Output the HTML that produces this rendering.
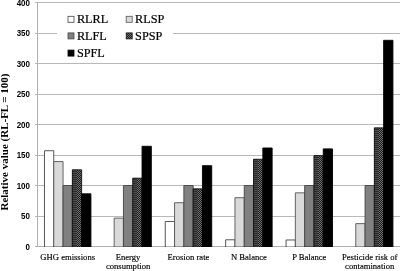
<!DOCTYPE html>
<html><head><meta charset="utf-8"><style>
html,body{margin:0;padding:0;background:#fff;}
body{width:400px;height:271px;overflow:hidden;position:relative;}
svg{position:absolute;left:0;top:0;will-change:transform;filter:blur(0.25px);}
.yl{font-family:"Liberation Sans",sans-serif;font-weight:bold;font-size:8.5px;fill:#000;}
.xl{font-family:"Liberation Serif",serif;font-size:8.6px;fill:#000;stroke:#000;stroke-width:0.15px;}
.lg{font-family:"Liberation Serif",serif;font-size:12.25px;fill:#000;stroke:#000;stroke-width:0.2px;}
.at{font-family:"Liberation Serif",serif;font-weight:bold;font-size:11px;fill:#000;}
</style></head><body>
<svg width="400" height="271" viewBox="0 0 400 271">
<defs>
<pattern id="chk" x="0" y="0" width="2" height="2" patternUnits="userSpaceOnUse">
<rect x="0" y="0" width="2" height="2" fill="#1c1c1c"/>
<rect x="0" y="0" width="1" height="1" fill="#707070"/>
<rect x="1" y="1" width="1" height="1" fill="#707070"/>
</pattern>
<pattern id="stp" x="0" y="0" width="2" height="2" patternUnits="userSpaceOnUse">
<rect x="0" y="0" width="2" height="2" fill="#2a2a2a"/>
<rect x="0" y="0" width="2" height="1" fill="#4c4c4c"/>
</pattern>
</defs>

<line x1="35" y1="2.5" x2="400" y2="2.5" stroke="#b8b8b8" stroke-width="1"/>
<line x1="35" y1="33.5" x2="400" y2="33.5" stroke="#b8b8b8" stroke-width="1"/>
<line x1="35" y1="63.5" x2="400" y2="63.5" stroke="#b8b8b8" stroke-width="1"/>
<line x1="35" y1="94.5" x2="400" y2="94.5" stroke="#b8b8b8" stroke-width="1"/>
<line x1="35" y1="124.5" x2="400" y2="124.5" stroke="#b8b8b8" stroke-width="1"/>
<line x1="35" y1="155.5" x2="400" y2="155.5" stroke="#b8b8b8" stroke-width="1"/>
<line x1="35" y1="185.5" x2="400" y2="185.5" stroke="#b8b8b8" stroke-width="1"/>
<line x1="35" y1="216.5" x2="400" y2="216.5" stroke="#b8b8b8" stroke-width="1"/>
<rect x="44.47" y="150.73" width="9.29" height="96.27" fill="#ffffff"/>
<path d="M44.47 247V150.73H53.76V247" fill="none" stroke="#444" stroke-width="0.9"/>
<rect x="53.76" y="161.59" width="9.29" height="85.41" fill="#d9d9d9"/>
<path d="M53.76 247V161.59H63.05V247" fill="none" stroke="#555" stroke-width="0.9"/>
<rect x="63.05" y="185.50" width="9.29" height="61.50" fill="#808080"/>
<path d="M63.05 247V185.50H72.35V247" fill="none" stroke="#444" stroke-width="0.9"/>
<rect x="72.35" y="169.82" width="9.29" height="77.18" fill="url(#chk)"/>
<rect x="72.35" y="169.82" width="4.18" height="77.18" fill="url(#stp)"/>
<path d="M72.35 247V169.82H81.64V247" fill="none" stroke="#111" stroke-width="0.9"/>
<rect x="81.64" y="193.80" width="9.29" height="53.20" fill="#000000"/>
<path d="M81.64 247V193.80H90.93V247" fill="none" stroke="#000" stroke-width="0.9"/>
<rect x="114.16" y="218.13" width="9.29" height="28.87" fill="#d9d9d9"/>
<path d="M114.16 247V218.13H123.45V247" fill="none" stroke="#555" stroke-width="0.9"/>
<rect x="123.45" y="185.50" width="9.29" height="61.50" fill="#808080"/>
<path d="M123.45 247V185.50H132.75V247" fill="none" stroke="#444" stroke-width="0.9"/>
<rect x="132.75" y="178.18" width="9.29" height="68.82" fill="url(#chk)"/>
<rect x="132.75" y="178.18" width="4.18" height="68.82" fill="url(#stp)"/>
<path d="M132.75 247V178.18H142.04V247" fill="none" stroke="#111" stroke-width="0.9"/>
<rect x="142.04" y="146.28" width="9.29" height="100.72" fill="#000000"/>
<path d="M142.04 247V146.28H151.33V247" fill="none" stroke="#000" stroke-width="0.9"/>
<rect x="165.27" y="221.49" width="9.29" height="25.51" fill="#ffffff"/>
<path d="M165.27 247V221.49H174.56V247" fill="none" stroke="#444" stroke-width="0.9"/>
<rect x="174.56" y="202.70" width="9.29" height="44.30" fill="#d9d9d9"/>
<path d="M174.56 247V202.70H183.85V247" fill="none" stroke="#555" stroke-width="0.9"/>
<rect x="183.85" y="185.50" width="9.29" height="61.50" fill="#808080"/>
<path d="M183.85 247V185.50H193.15V247" fill="none" stroke="#444" stroke-width="0.9"/>
<rect x="193.15" y="188.86" width="9.29" height="58.14" fill="url(#chk)"/>
<rect x="193.15" y="188.86" width="4.18" height="58.14" fill="url(#stp)"/>
<path d="M193.15 247V188.86H202.44V247" fill="none" stroke="#111" stroke-width="0.9"/>
<rect x="202.44" y="165.68" width="9.29" height="81.32" fill="#000000"/>
<path d="M202.44 247V165.68H211.73V247" fill="none" stroke="#000" stroke-width="0.9"/>
<rect x="225.67" y="239.79" width="9.29" height="7.21" fill="#ffffff"/>
<path d="M225.67 247V239.79H234.96V247" fill="none" stroke="#444" stroke-width="0.9"/>
<rect x="234.96" y="197.70" width="9.29" height="49.30" fill="#d9d9d9"/>
<path d="M234.96 247V197.70H244.25V247" fill="none" stroke="#555" stroke-width="0.9"/>
<rect x="244.25" y="185.50" width="9.29" height="61.50" fill="#808080"/>
<path d="M244.25 247V185.50H253.55V247" fill="none" stroke="#444" stroke-width="0.9"/>
<rect x="253.55" y="159.27" width="9.29" height="87.73" fill="url(#chk)"/>
<rect x="253.55" y="159.27" width="4.18" height="87.73" fill="url(#stp)"/>
<path d="M253.55 247V159.27H262.84V247" fill="none" stroke="#111" stroke-width="0.9"/>
<rect x="262.84" y="147.99" width="9.29" height="99.01" fill="#000000"/>
<path d="M262.84 247V147.99H272.13V247" fill="none" stroke="#000" stroke-width="0.9"/>
<rect x="286.07" y="239.97" width="9.29" height="7.03" fill="#ffffff"/>
<path d="M286.07 247V239.97H295.36V247" fill="none" stroke="#444" stroke-width="0.9"/>
<rect x="295.36" y="192.82" width="9.29" height="54.18" fill="#d9d9d9"/>
<path d="M295.36 247V192.82H304.65V247" fill="none" stroke="#555" stroke-width="0.9"/>
<rect x="304.65" y="185.50" width="9.29" height="61.50" fill="#808080"/>
<path d="M304.65 247V185.50H313.95V247" fill="none" stroke="#444" stroke-width="0.9"/>
<rect x="313.95" y="155.61" width="9.29" height="91.39" fill="url(#chk)"/>
<rect x="313.95" y="155.61" width="4.18" height="91.39" fill="url(#stp)"/>
<path d="M313.95 247V155.61H323.24V247" fill="none" stroke="#111" stroke-width="0.9"/>
<rect x="323.24" y="148.90" width="9.29" height="98.10" fill="#000000"/>
<path d="M323.24 247V148.90H332.53V247" fill="none" stroke="#000" stroke-width="0.9"/>
<rect x="355.76" y="223.62" width="9.29" height="23.38" fill="#d9d9d9"/>
<path d="M355.76 247V223.62H365.05V247" fill="none" stroke="#555" stroke-width="0.9"/>
<rect x="365.05" y="185.50" width="9.29" height="61.50" fill="#808080"/>
<path d="M365.05 247V185.50H374.35V247" fill="none" stroke="#444" stroke-width="0.9"/>
<rect x="374.35" y="127.86" width="9.29" height="119.14" fill="url(#chk)"/>
<rect x="374.35" y="127.86" width="4.18" height="119.14" fill="url(#stp)"/>
<path d="M374.35 247V127.86H383.64V247" fill="none" stroke="#111" stroke-width="0.9"/>
<rect x="383.64" y="40.32" width="9.29" height="206.68" fill="#000000"/>
<path d="M383.64 247V40.32H392.93V247" fill="none" stroke="#000" stroke-width="0.9"/>
<line x1="35" y1="246.5" x2="400" y2="246.5" stroke="#b0b0b0" stroke-width="1" style="mix-blend-mode:multiply"/>
<line x1="37.5" y1="2" x2="37.5" y2="247.0" stroke="#b0b0b0" stroke-width="1"/>
<text class="yl" transform="translate(30,5.50) scale(0.94,1)" text-anchor="end">400</text>
<text class="yl" transform="translate(30,36.00) scale(0.94,1)" text-anchor="end">350</text>
<text class="yl" transform="translate(30,66.50) scale(0.94,1)" text-anchor="end">300</text>
<text class="yl" transform="translate(30,97.00) scale(0.94,1)" text-anchor="end">250</text>
<text class="yl" transform="translate(30,127.50) scale(0.94,1)" text-anchor="end">200</text>
<text class="yl" transform="translate(30,158.00) scale(0.94,1)" text-anchor="end">150</text>
<text class="yl" transform="translate(30,188.50) scale(0.94,1)" text-anchor="end">100</text>
<text class="yl" transform="translate(30,219.00) scale(0.94,1)" text-anchor="end">50</text>
<text class="yl" transform="translate(30,249.50) scale(0.94,1)" text-anchor="end">0</text>
<rect x="57" y="8" width="116" height="54" fill="#fff"/>
<rect x="68.0" y="16.3" width="6" height="6" fill="#ffffff" stroke="#444" stroke-width="0.8"/>
<text class="lg" x="76.9" y="23.2">RLRL</text>
<rect x="126.2" y="16.3" width="6" height="6" fill="#d9d9d9" stroke="#555" stroke-width="0.8"/>
<text class="lg" x="135.1" y="23.2">RLSP</text>
<rect x="68.0" y="32.9" width="6" height="6" fill="#808080" stroke="#444" stroke-width="0.8"/>
<text class="lg" x="76.9" y="39.7">RLFL</text>
<rect x="126.2" y="32.9" width="6" height="6" fill="url(#chk)" stroke="#111" stroke-width="0.8"/>
<text class="lg" x="135.1" y="39.7">SPSP</text>
<rect x="68.0" y="50.1" width="6" height="6" fill="#000000" stroke="#000" stroke-width="0.8"/>
<text class="lg" x="76.9" y="56.7">SPFL</text>
<text class="xl" x="67.70" y="259.90" text-anchor="middle">GHG emissions</text>
<text class="xl" x="128.10" y="259.90" text-anchor="middle">Energy</text>
<text class="xl" x="128.10" y="269.00" text-anchor="middle">consumption</text>
<text class="xl" x="188.50" y="259.90" text-anchor="middle">Erosion rate</text>
<text class="xl" x="248.90" y="259.90" text-anchor="middle">N Balance</text>
<text class="xl" x="309.30" y="259.90" text-anchor="middle">P Balance</text>
<text class="xl" x="369.70" y="259.90" text-anchor="middle">Pesticide risk of</text>
<text class="xl" x="369.70" y="269.00" text-anchor="middle">contamination</text>
<text class="at" transform="translate(7.7,142) rotate(-90)" text-anchor="middle">Relative value (RL-FL = 100)</text>
</svg>
</body></html>
